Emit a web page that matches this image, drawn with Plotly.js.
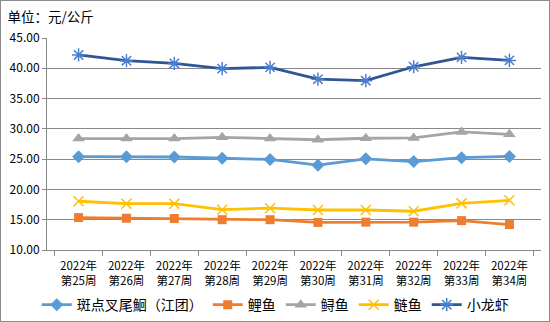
<!DOCTYPE html>
<html><head><meta charset="utf-8">
<script src="https://cdn.plot.ly/plotly-3.0.1.min.js"></script>
<style>
html,body{margin:0;padding:0;background:#fff;}
#chart{width:550px;height:322px;box-sizing:border-box;border:1px solid #8c8c8c;}
</style></head>
<body><div id="chart"></div>
<script>
const categories = ["2022年<br>第25周","2022年<br>第26周","2022年<br>第27周","2022年<br>第28周","2022年<br>第29周","2022年<br>第30周","2022年<br>第31周","2022年<br>第32周","2022年<br>第33周","2022年<br>第34周"];
const channelCatfish = [25.4,25.4,25.35,25.15,24.95,24.0,25.05,24.6,25.25,25.45];
const carp = [15.35,15.25,15.2,15.0,15.0,14.55,14.6,14.6,14.85,14.2];
const sturgeon = [28.4,28.4,28.4,28.6,28.4,28.2,28.45,28.5,29.5,29.1];
const silverCarp = [18.05,17.65,17.65,16.65,16.9,16.6,16.6,16.4,17.7,18.2];
const crayfish = [42.2,41.25,40.8,39.95,40.15,38.2,37.95,40.25,41.8,41.3];
const yTicks = [10,15,20,25,30,35,40,45];

const F = '"Noto Sans CJK SC", "DejaVu Sans", sans-serif';
function tr(name, y, color, sym, size, mcolor, open){
  return {type:'scatter', mode:'lines+markers', name:name, x:categories, y:y,
    line:{color:color, width:2.8},
    marker:{symbol:sym, size:size, color:mcolor||color, line:{color:mcolor||color, width:open?1.5:0}}};
}
const data = [
  tr('斑点叉尾鮰（江团）', channelCatfish, '#5B9BD5', 'diamond', 10),
  tr('鲤鱼', carp, '#ED7D31', 'square', 9),
  tr('鲟鱼', sturgeon, '#A5A5A5', 'triangle-up', 11),
  tr('鲢鱼', silverCarp, '#FFC000', 'x-thin-open', 10, '#FFC000', true),
  tr('小龙虾', crayfish, '#2F5597', 'asterisk-open', 11, '#4A7FD0', true)
];
const layout = {
  width:548, height:320,
  margin:{l:46, r:8, t:37, b:71, autoexpand:false},
  paper_bgcolor:'#fff', plot_bgcolor:'#fff',
  font:{family:F, color:'#000', size:11},
  title:{text:'单位：元/公斤', xref:'container', yref:'container', x:0.012, xanchor:'left', y:0.95, yanchor:'middle', font:{size:13.5, family:F, color:'#000'}},
  showlegend:true,
  legend:{orientation:'h', x:0.462, xanchor:'center', y:-0.26, yanchor:'middle', font:{size:14, family:F}, itemwidth:30, tracegroupgap:0},
  xaxis:{type:'category', tickson:'boundaries', ticks:'outside', ticklen:5, tickcolor:'#898989', ticklabelstandoff:5,
    showline:true, linecolor:'#898989', linewidth:1, showgrid:false, tickfont:{size:11.5, family:F}, fixedrange:true},
  yaxis:{range:[10,45], tickvals:yTicks, tickformat:'.2f', ticks:'outside', ticklen:4, tickcolor:'#898989',
    showline:true, linecolor:'#898989', linewidth:1, showgrid:true, gridcolor:'#898989', gridwidth:1,
    zeroline:false, tickfont:{size:12, family:F}, fixedrange:true}
};
Plotly.newPlot('chart', data, layout, {displayModeBar:false, staticPlot:true});
</script></body></html>
